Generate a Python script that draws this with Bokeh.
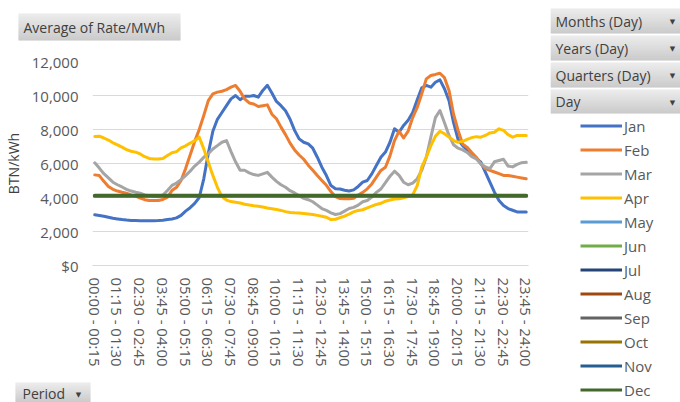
from bokeh.plotting import figure
from bokeh.layouts import row, column
from bokeh.models import (Range1d, FixedTicker, NumeralTickFormatter, Legend, LegendItem)
from bokeh.core.properties import value
from bokeh.embed import file_html
from bokeh.resources import INLINE

# ---- categories ----
periods = []
for k in range(96):
    a = k * 15
    b = a + 15
    periods.append(f"{a // 60:02d}:{a % 60:02d} - {b // 60:02d}:{b % 60:02d}")

months = ["Jan", "Feb", "Mar", "Apr", "May", "Jun",
          "Jul", "Aug", "Sep", "Oct", "Nov", "Dec"]

# ---- series values (BTN/kWh) ----
jan = [2980, 2940, 2900, 2840, 2780, 2740, 2700, 2670, 2650, 2640, 2630, 2630,
       2630, 2630, 2640, 2660, 2700, 2740, 2800, 2950, 3200, 3400, 3650, 4000,
       5100, 6600, 7900, 8600, 9000, 9400, 9800, 10000, 9750, 9950, 9950, 10000,
       9900, 10300, 10600, 10150, 9650, 9400, 9100, 8600, 7950, 7450, 7250, 7150,
       6900, 6370, 5780, 5290, 4700, 4520, 4500, 4430, 4380, 4450, 4650, 4900,
       5000, 5390, 5880, 6370, 6670, 7250, 8040, 7840, 8240, 8550, 9000, 9750,
       10450, 10590, 10490, 10780, 10920, 10400, 9700, 8400, 7400, 7050, 6800, 6500,
       6300, 6080, 5490, 4900, 4310, 3820, 3530, 3350, 3250, 3150, 3140, 3140]

feb = [5330, 5290, 4950, 4650, 4480, 4380, 4310, 4250, 4150, 4080, 3970, 3870,
       3820, 3820, 3820, 3880, 4020, 4410, 4600, 5000, 5700, 6500, 7300, 8000,
       8820, 9700, 10100, 10200, 10250, 10350, 10490, 10590, 10250, 9800, 9560, 9500,
       9350, 9400, 9450, 8900, 8630, 8140, 7700, 7200, 6800, 6500, 6250, 5900,
       5600, 5290, 5000, 4720, 4350, 4050, 3940, 3920, 3920, 3960, 4150, 4300,
       4510, 4800, 5200, 5590, 5780, 6450, 7350, 7900, 7500, 7900, 8700, 9300,
       10100, 10980, 11180, 11240, 11310, 11050, 10300, 8900, 7940, 7150, 6950, 6650,
       6370, 5980, 5700, 5600, 5500, 5400, 5300, 5290, 5250, 5200, 5150, 5100]

mar = [6040, 5730, 5400, 5150, 4900, 4750, 4620, 4480, 4380, 4310, 4250, 4150,
       4100, 4080, 4050, 4150, 4410, 4710, 4850, 5050, 5290, 5550, 5850, 6080,
       6370, 6570, 6850, 7050, 7250, 7350, 6700, 6100, 5600, 5600, 5450, 5350,
       5300, 5390, 5480, 5200, 4950, 4750, 4600, 4400, 4270, 4100, 3950, 3870,
       3750, 3550, 3350, 3240, 3100, 3000, 3050, 3200, 3350, 3420, 3550, 3750,
       3820, 4020, 4300, 4500, 4880, 5250, 5550, 5300, 4900, 4750, 4850, 5100,
       5600, 6370, 7550, 8700, 9120, 8400, 7650, 7100, 6900, 6800, 6650, 6400,
       6270, 5980, 5800, 5700, 6100, 6180, 6250, 5850, 5800, 5950, 6050, 6080]

apr = [7590, 7610, 7500, 7380, 7220, 7100, 6960, 6820, 6720, 6670, 6560, 6400,
       6300, 6270, 6270, 6300, 6470, 6630, 6700, 6920, 7040, 7200, 7330, 7550,
       6860, 6080, 5300, 4600, 4050, 3850, 3760, 3720, 3680, 3600, 3560, 3520,
       3490, 3440, 3380, 3340, 3300, 3240, 3170, 3120, 3100, 3090, 3060, 3030,
       3000, 2950, 2900, 2840, 2700, 2720, 2820, 2900, 3020, 3150, 3240, 3280,
       3390, 3490, 3590, 3660, 3780, 3850, 3910, 3920, 3980, 4050, 4150, 4700,
       5800, 6370, 7050, 7600, 7900, 7750, 7550, 7350, 7250, 7300, 7420, 7520,
       7580, 7550, 7650, 7800, 7840, 8040, 7950, 7700, 7550, 7650, 7650, 7650]

dec = [4100, 4100, 4100, 4100, 4100, 4100, 4100, 4100, 4100, 4100, 4100, 4100,
       4100, 4100, 4100, 4100, 4100, 4100, 4100, 4100, 4100, 4100, 4100, 4100,
       4100, 4100, 4100, 4100, 4100, 4100, 4100, 4100, 4100, 4100, 4100, 4100,
       4100, 4100, 4100, 4100, 4100, 4100, 4100, 4100, 4100, 4100, 4100, 4100,
       4100, 4100, 4100, 4100, 4100, 4100, 4100, 4100, 4100, 4100, 4100, 4100,
       4100, 4100, 4100, 4100, 4100, 4100, 4100, 4100, 4100, 4100, 4100, 4100,
       4100, 4100, 4100, 4100, 4100, 4100, 4100, 4100, 4100, 4100, 4100, 4100,
       4100, 4100, 4100, 4100, 4100, 4100, 4100, 4100, 4100, 4100, 4100, 4100]

series = {"Jan": jan, "Feb": feb, "Mar": mar, "Apr": apr, "Dec": dec}

y_ticks = [0, 2000, 4000, 6000, 8000, 10000, 12000]
x_ticks = list(range(0, 96, 5))

field_buttons = ["Months (Day)", "Years (Day)", "Quarters (Day)", "Day"]
value_button = "Average of Rate/MWh"
axis_button = "Period"

colors = {"Jan": "#4472C4", "Feb": "#ED7D31", "Mar": "#A5A5A5", "Apr": "#FFC000",
          "May": "#5B9BD5", "Jun": "#70AD47", "Jul": "#264478", "Aug": "#9E480E",
          "Sep": "#636363", "Oct": "#997300", "Nov": "#255E91", "Dec": "#43682B"}

FONT = "Open Sans"
TXT = "#404040"
LBL = "#595959"

# ---- layout geometry (canvas pixels) ----
LEFT_W, RIGHT_W = 550, 130
TOP_H, BOT_H = 45, 30
MAIN_H = 402 - TOP_H - BOT_H


def no_align(f):
    try:
        f.frame_align = False
    except Exception:
        pass


def deco_fig(w, h, x0, x1, y0, y1):
    f = figure(width=w, height=h, x_range=Range1d(x0, x1), y_range=Range1d(y1, y0),
               output_backend="svg", toolbar_location=None, min_border=0,
               x_axis_location=None, y_axis_location=None)
    f.grid.visible = False
    f.outline_line_color = None
    f.background_fill_color = "white"
    f.border_fill_color = "white"
    no_align(f)
    return f


def button(f, x0, y0, x1, y1):
    n = int(round(y1 - y0))
    top_c = (0xEA, 0xEA, 0xEA)
    bot_c = (0xC4, 0xC4, 0xC4)
    lefts, rights, tops, bots, cols = [], [], [], [], []
    for r in range(n):
        t = r / max(n - 1, 1)
        c = tuple(int(top_c[k] + (bot_c[k] - top_c[k]) * t) for k in range(3))
        lefts.append(x0)
        rights.append(x1)
        tops.append(y0 + r)
        bots.append(min(y0 + r + 1.3, y1))
        cols.append("#%02x%02x%02x" % c)
    f.quad(left=lefts, right=rights, top=tops, bottom=bots, fill_color=cols, line_color=None)


def text(f, x, y, s, size="14px", font=FONT, color=TXT, align="left"):
    f.text(x=[x], y=[y], text=[s], text_font=value(font), text_font_size=size,
           text_color=color, text_align=align, text_baseline="middle")


# ---- main chart ----
p = figure(width=LEFT_W, height=MAIN_H, x_range=Range1d(-0.5, 95.5), y_range=Range1d(0, 12000),
           output_backend="svg", toolbar_location=None,
           min_border_left=88, min_border_right=22, min_border_top=16, min_border_bottom=107)
p.outline_line_color = None
p.background_fill_color = "white"
p.border_fill_color = "white"
no_align(p)

xa = p.xaxis[0]
xa.ticker = FixedTicker(ticks=x_ticks)
xa.major_label_overrides = {i: periods[i] for i in x_ticks}
xa.major_label_orientation = "vertical"
xa.axis_line_color = "#D9D9D9"
xa.major_tick_line_color = None
xa.minor_tick_line_color = None
xa.major_label_standoff = 6
xa.major_label_text_font = FONT
xa.major_label_text_font_size = "15px"
xa.major_label_text_color = LBL

ya = p.yaxis[0]
ya.ticker = FixedTicker(ticks=y_ticks)
ya.formatter = NumeralTickFormatter(format="0,0")
ya.major_label_overrides = {0: "$0"}
ya.axis_line_color = None
ya.major_tick_line_color = None
ya.minor_tick_line_color = None
ya.major_label_standoff = 8
ya.major_label_text_font = FONT
ya.major_label_text_font_size = "15px"
ya.major_label_text_color = LBL
ya.axis_label = "BTN/kWh"
ya.axis_label_text_font = FONT
ya.axis_label_text_font_size = "14px"
ya.axis_label_text_font_style = "normal"
ya.axis_label_text_color = TXT
ya.axis_label_standoff = 6

p.xgrid.grid_line_color = None
p.ygrid.ticker = FixedTicker(ticks=y_ticks)
p.ygrid.grid_line_color = "#D9D9D9"
p.ygrid.grid_line_width = 1

xs = list(range(len(periods)))
for m in ["Jan", "Feb", "Mar", "Apr", "Dec"]:
    p.line(x=xs, y=series[m], line_width=4 if m == "Dec" else 3,
           color=colors[m], line_join="round", line_cap="round")

# ---- top strip: value field button ----
top = deco_fig(LEFT_W, TOP_H, 0, LEFT_W, 0, TOP_H)
button(top, 18, 13, 180, 40)
text(top, 23, 26.5, value_button)

# ---- bottom strip: axis field button ----
bot = deco_fig(LEFT_W, BOT_H, 0, LEFT_W, 402 - BOT_H, 402)
button(bot, 15, 382, 90, 402)
text(bot, 22, 393, axis_button)
text(bot, 78, 394, "\u25BC", size="7px", font="DejaVu Sans", align="center")

# ---- right column: filter buttons + legend ----
right = deco_fig(RIGHT_W, 402, LEFT_W, LEFT_W + RIGHT_W, 0, 402)
rows_y = [(8, 33), (35, 60), (62, 87), (89, 113)]
for lab, (y0, y1) in zip(field_buttons, rows_y):
    button(right, 550, y0, 680, y1)
    text(right, 555, (y0 + y1) / 2, lab)
    text(right, 672, (y0 + y1) / 2 + 1, "\u25BC", size="7px", font="DejaVu Sans", align="center")

nan = float("nan")
leg_r = {m: right.line(x=[nan], y=[nan], line_width=3, color=colors[m]) for m in months}
items = [LegendItem(label=m, renderers=[leg_r[m]]) for m in months]
legend = Legend(items=items, location=(30, 2), orientation="vertical",
                glyph_width=42, glyph_height=21, label_height=21, spacing=3,
                padding=0, margin=0, label_standoff=2,
                label_text_font=FONT, label_text_font_size="15px",
                label_text_color=LBL, border_line_color=None,
                background_fill_alpha=0)
right.add_layout(legend, "center")

layout = row(column(top, p, bot, spacing=0), right, spacing=0)

open("out.html", "w").write(file_html(layout, INLINE))
